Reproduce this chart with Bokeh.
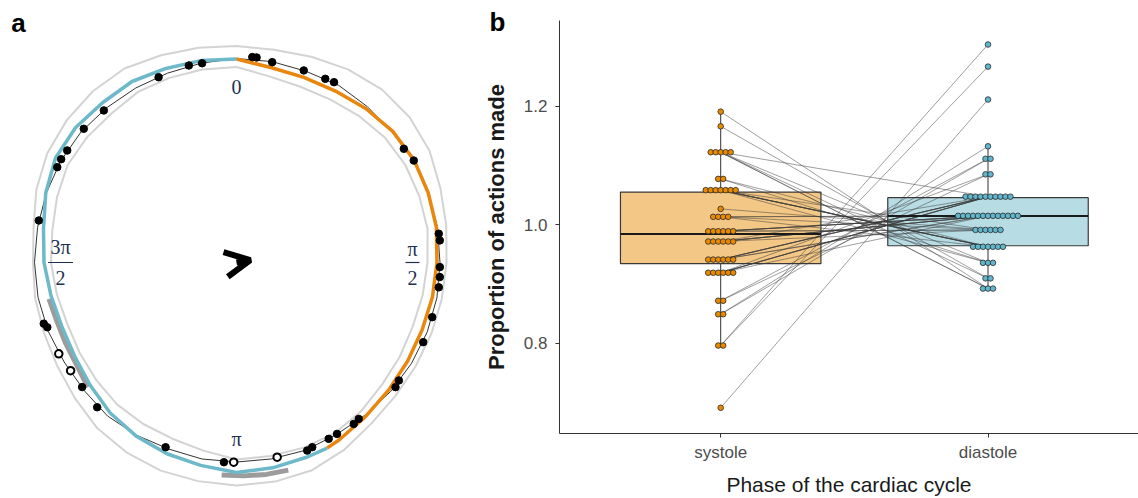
import numpy as np
from bokeh.plotting import figure
from bokeh.models import Arrow, OpenHead, FixedTicker, Range1d
from bokeh.embed import file_html
from bokeh.resources import INLINE
from bokeh.core.properties import value

# ---------------- Panel a: circular data (angles clockwise from top, degrees; radii in px) ----------------
ring_deg = [0, 10, 20, 30, 40, 50, 60, 70, 80, 90, 100, 110, 120, 130, 140, 150, 160, 170,
            180, 190, 200, 210, 220, 230, 240, 250, 260, 270, 280, 290, 300, 310, 320, 330, 340, 350]
outer_r = [216.5, 216, 219, 223, 226, 226, 223, 217, 213, 210, 208.5, 207.5, 207, 207.5, 210, 216, 221, 222.5,
           223, 222, 221.5, 219.5, 216.5, 211, 207, 205, 204.5, 203.5, 206, 213, 218.5, 221.5, 223.5, 224, 220.5, 218]
inner_r = [195.5, 189, 187, 188, 191, 194, 195, 194.5, 194, 191, 189, 187.5, 188.5, 190, 194, 197, 197, 196.5,
           197, 191, 187.5, 186.5, 185.5, 183, 181, 180, 182.5, 185.5, 187, 191, 195, 195, 194.5, 197, 196.5, 196]
trace_r = [204, 204, 203.5, 204.5, 203.5, 203, 204, 204, 204, 203.5, 203.5, 203, 202, 201, 199.5, 199, 200, 199.5,
           199.5, 199.5, 198.5, 199.5, 200.5, 199, 199, 200.5, 201.5, 202, 202, 202.5, 203, 203, 202, 201.5, 201.5, 202.5]
density_deg = [0, 10, 20, 30, 40, 50, 60, 70, 80, 90, 100, 110, 120, 130, 140, 150, 154, 160, 170,
               180, 190, 200, 210, 220, 230, 240, 250, 260, 270, 280, 290, 300, 310, 320, 330, 340, 350]
density_r = [203.5, 198, 197, 198, 201, 204, 205, 204, 203, 200.5, 199, 197.5, 197.5, 198.5, 201, 205, 206.5, 207, 208.5,
             210, 206, 203.5, 200.5, 196.5, 191, 187, 186, 188.5, 192.5, 196, 203, 209, 210, 208.5, 209, 206.5, 205]
systole_end_deg = 154
band1_deg = [230, 237, 245, 252, 259]
band1_r = [194, 190, 189, 189, 191]
band2_deg = [166, 172, 178, 184]
band2_r = [214, 214, 213.5, 213]
dot_deg = [4.4, 5.6, 10.1, 19.3, 25.8, 28.4, 55.8, 60.1, 81.9, 83.8, 91.3, 94.1, 97.0,
           105.6, 113.1, 126.0, 128.1, 142.0, 144.0, 149.6, 152.4, 157.7, 159.4, 168.2,
           180.8, 183.6, 201.0, 223.9, 231.1, 236.9, 242.8, 251.1, 252.4, 282.0, 298.0,
           300.5, 303.5, 311.2, 318.9, 337.2, 346.4, 350.2]
dot_r = [206, 206, 203.5, 203.5, 204, 205, 202.3, 204.5, 204.3, 204.5, 203.4, 203.8, 203.8,
         203.2, 203, 200.7, 202, 198.5, 199.5, 198.7, 199, 199.6, 200.9, 198.9,
         199.7, 200.1, 197.9, 200.9, 198.4, 198, 199.8, 200, 202.2, 202.1, 203,
         203.5, 203, 203, 201.8, 201, 202.7, 202.2]
dot_open = [168.2, 180.8, 236.9, 242.8]
mean_dir_deg = 80
mean_len = 14
tick_labels = ["0", "π", "π", "3π"]
tick_deg = [0, 180, 90, 270]
label_r = 176
panel_letters = ["a", "b"]

# ---------------- Panel b data ----------------
phases = ["systole", "diastole"]
systole = [0.7962, 0.7962, 0.6912, 0.849, 0.849, 0.8717, 0.8717, 0.919, 0.919, 0.919,
           0.919, 0.919, 0.919, 0.9412, 0.9412, 0.9412, 0.9412, 0.9412, 0.9412, 0.9717,
           0.9717, 0.9717, 0.9717, 0.9717, 0.9717, 0.989, 0.989, 0.989, 0.989, 0.989,
           0.989, 1.0133, 1.0133, 1.0133, 1.0133, 1.0267, 1.0583, 1.0583, 1.0583, 1.0583,
           1.0583, 1.0583, 1.0583, 1.0773, 1.0773, 1.1223, 1.1223, 1.1223, 1.1223, 1.1223,
           1.166, 1.1907]
diastole = [1.304, 1.2667, 1.2112, 1.1323, 1.1112, 1.1112, 1.085, 1.085, 1.0473, 1.0473,
            1.0473, 1.015, 1.0473, 1.0473, 1.0473, 1.015, 1.0473, 1.0473, 1.015, 1.0473,
            1.015, 1.015, 0.9912, 1.015, 1.015, 1.015, 1.015, 0.9912, 1.015, 1.015,
            0.9912, 1.015, 0.9912, 1.015, 0.9628, 0.9912, 0.9628, 0.9912, 0.9628, 0.9628,
            0.9357, 0.9628, 0.9628, 0.9357, 0.9628, 0.9357, 1.0473, 0.8923, 0.9095, 0.8923,
            0.9095, 0.8923]
box_q1 = [0.9345, 0.9645]
box_median = [0.9845, 1.0145]
box_q3 = [1.055, 1.0457]
y_ticks = [0.8, 1.0, 1.2]

# ---------------- helpers ----------------
def polar(deg, r):
    th = np.radians(np.asarray(deg, dtype=float))
    r = np.asarray(r, dtype=float)
    return r * np.sin(th), r * np.cos(th)

def closed(deg, r):
    return list(deg) + [deg[0] + 360], list(r) + [r[0]]

# ---------------- Panel a figure (also carries the panel letters) ----------------
W1 = 520
p1 = figure(width=W1, height=498, x_range=Range1d(-236, W1 - 236), y_range=Range1d(-236, 262),
            output_backend="svg", toolbar_location=None, min_border=0)
p1.axis.visible = False
p1.grid.visible = False
p1.outline_line_color = None
p1.styles = {"position": "absolute", "left": "0px", "top": "0px"}

for rr in (outer_r, inner_r):
    d, r = closed(ring_deg, rr)
    x, y = polar(d, r)
    p1.line(x, y, line_color="#D3D3D3", line_width=2, line_join="round")

d, r = closed(ring_deg, trace_r)
x, y = polar(d, r)
p1.line(x, y, line_color="#333333", line_width=1, line_join="round")

x, y = polar(band1_deg, band1_r)
p1.line(x, y, line_color="#9C9C9C", line_width=5)
x, y = polar(band2_deg, band2_r)
p1.line(x, y, line_color="#9C9C9C", line_width=5)

split = density_deg.index(systole_end_deg)
xo, yo = polar(density_deg[:split + 1], density_r[:split + 1])
p1.line(xo, yo, line_color="#E8860E", line_width=3.5, line_join="round")
td = density_deg[split:] + [360]
tr = density_r[split:] + [density_r[0]]
xt, yt = polar(td, tr)
p1.line(xt, yt, line_color="#6DB8C9", line_width=3.5, line_join="round")

filled = [i for i, dd in enumerate(dot_deg) if dd not in dot_open]
opened = [i for i, dd in enumerate(dot_deg) if dd in dot_open]
x, y = polar([dot_deg[i] for i in filled], [dot_r[i] for i in filled])
p1.scatter(x, y, size=7.5, fill_color="black", line_color="black")
x, y = polar([dot_deg[i] for i in opened], [dot_r[i] for i in opened])
p1.scatter(x, y, size=7.5, fill_color="white", line_color="black", line_width=2)

ax, ay = polar([mean_dir_deg], [mean_len])
p1.add_layout(Arrow(end=OpenHead(size=25, line_width=6, line_color="black"),
                    x_start=0, y_start=0, x_end=float(ax[0]), y_end=float(ay[0]),
                    line_width=6, line_color="black"))

lx, ly = polar(tick_deg, [label_r] * 4)
lab_y = [ly[0], ly[1], ly[2] + 14, ly[3] + 16]
p1.text(list(lx), lab_y, text=tick_labels, text_font=value("Liberation Serif"),
        text_font_size="20px", text_color="#22304F", text_align="center", text_baseline="middle")
p1.text([lx[2], lx[3]], [ly[2] - 15, ly[3] - 15], text=["2", "2"], text_font=value("Liberation Serif"),
        text_font_size="20px", text_color="#22304F", text_align="center", text_baseline="middle")
bar_half = [7, 12.5]
p1.segment([lx[2] - bar_half[0], lx[3] - bar_half[1]], [ly[2], ly[3]],
           [lx[2] + bar_half[0], lx[3] + bar_half[1]], [ly[2], ly[3]],
           line_color="#22304F", line_width=1.2)

p1.text([18 - 236, 497 - 236], [262 - 22, 262 - 21], text=panel_letters,
        text_font=value("Liberation Sans"), text_font_size="26px", text_font_style="bold",
        text_color="black", text_align="center", text_baseline="middle")

# ---------------- Panel b figure ----------------
x_pos = [1, 2]
p2 = figure(width=658, height=498, x_range=Range1d(0.397, 2.563), y_range=Range1d(0.6478, 1.3445),
            output_backend="svg", toolbar_location=None,
            min_border_left=78, min_border_right=0, min_border_top=20, min_border_bottom=60)
p2.grid.visible = False
p2.outline_line_color = None
p2.background_fill_color = None
p2.border_fill_color = None
p2.styles = {"position": "absolute", "left": "480px", "top": "0px"}

box_w = 0.75
fills = ["#F3C786", "#B8DCE4"]
dot_fill = ["#E88A00", "#62B6CB"]

for i, vals in enumerate((systole, diastole)):
    v = np.array(vals)
    q1, q3 = box_q1[i], box_q3[i]
    iqr = q3 - q1
    lo = v[v >= q1 - 1.5 * iqr].min()
    hi = v[v <= q3 + 1.5 * iqr].max()
    p2.segment([x_pos[i], x_pos[i]], [lo, q3], [x_pos[i], x_pos[i]], [q1, hi],
               line_color="#333333", line_width=1)

p2.quad(left=[x - box_w / 2 for x in x_pos], right=[x + box_w / 2 for x in x_pos],
        bottom=box_q1, top=box_q3, fill_color=fills, line_color="#3A3A3A", line_width=1.2)

p2.multi_line([[1, 2] for _ in systole], [[s, d] for s, d in zip(systole, diastole)],
              line_color="#3C3C3C", line_alpha=0.55, line_width=0.9)

p2.segment([x - box_w / 2 for x in x_pos], box_median, [x + box_w / 2 for x in x_pos], box_median,
           line_color="#1A1A1A", line_width=2)

spacing = 5.0 / 267.9

def stack_offsets(vals):
    counts = {}
    for v in vals:
        counts[v] = counts.get(v, 0) + 1
    seen = {}
    out = []
    for v in vals:
        k = counts[v]
        i = seen.get(v, 0)
        seen[v] = i + 1
        out.append((i - (k - 1) / 2) * spacing)
    return out

for i, vals in enumerate((systole, diastole)):
    offs = stack_offsets(vals)
    p2.scatter([x_pos[i] + o for o in offs], vals, size=5.6, fill_color=dot_fill[i],
               line_color="#2A2A2A", line_width=0.8)

p2.xaxis.ticker = FixedTicker(ticks=x_pos)
p2.xaxis.major_label_overrides = {1: phases[0], 2: phases[1]}
p2.yaxis.ticker = FixedTicker(ticks=y_ticks)
p2.yaxis.major_label_overrides = {t: f"{t:.1f}" for t in y_ticks}
for ax_ in (p2.xaxis[0], p2.yaxis[0]):
    ax_.axis_line_color = "#333333"
    ax_.major_tick_line_color = "#333333"
    ax_.major_tick_out = 4
    ax_.major_tick_in = 0
    ax_.minor_tick_line_color = None
    ax_.major_label_text_font = "Liberation Sans"
    ax_.major_label_text_font_size = "17px"
    ax_.major_label_text_color = "#4D4D4D"
    ax_.axis_label_text_font = "Liberation Sans"
    ax_.axis_label_text_color = "#1A1A1A"
p2.xaxis.major_label_standoff = 5
p2.yaxis.major_label_standoff = 8
p2.xaxis.axis_label = "Phase of the cardiac cycle"
p2.xaxis.axis_label_text_font_size = "21px"
p2.xaxis.axis_label_text_font_style = "normal"
p2.xaxis.axis_label_standoff = 8
p2.yaxis.axis_label = "Proportion of actions made"
p2.yaxis.axis_label_text_font_size = "22px"
p2.yaxis.axis_label_text_font_style = "bold"
p2.yaxis.axis_label_standoff = 12

open("out.html", "w").write(file_html([p1, p2], INLINE))
